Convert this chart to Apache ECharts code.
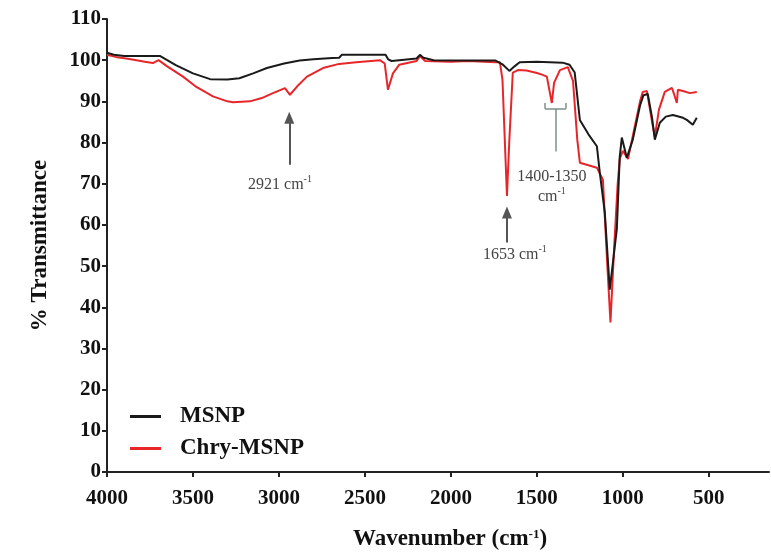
<!DOCTYPE html>
<html>
<head>
<meta charset="utf-8">
<script src="https://cdn.jsdelivr.net/npm/echarts@6/dist/echarts.min.js"></script>
<style>
  html, body { margin: 0; padding: 0; background: #fff; }
  #chart { width: 771px; height: 556px; }
</style>
</head>
<body>
<div id="chart"></div>
<script>
// FTIR 谱图数据 (波数, 透过率%)
var msnpData = [
  [4000, 101.8], [3960, 101.3], [3900, 101.0], [3800, 101.0], [3690, 101.0],
  [3600, 98.8], [3500, 96.8], [3400, 95.4], [3300, 95.3], [3230, 95.6],
  [3150, 96.8], [3070, 98.1], [2970, 99.2], [2880, 99.9], [2800, 100.2],
  [2690, 100.5], [2650, 100.6], [2635, 101.3], [2500, 101.3], [2380, 101.3],
  [2365, 100.2], [2345, 99.8], [2300, 100.0], [2200, 100.4], [2180, 101.3],
  [2160, 100.6], [2100, 100.0], [1900, 99.9], [1740, 99.9], [1700, 99.0],
  [1660, 97.4], [1630, 98.5], [1600, 99.5], [1500, 99.6], [1350, 99.4],
  [1310, 98.9], [1280, 97.0], [1250, 85.5], [1200, 82.0], [1151, 79.1],
  [1134, 72.7], [1105, 63.0], [1076, 44.3], [1035, 59.0], [1018, 76.6],
  [1006, 81.2], [977, 76.3], [942, 80.7], [900, 89.0], [880, 91.5],
  [855, 91.8], [830, 86.0], [814, 80.7], [785, 84.8], [750, 86.3],
  [709, 86.7], [650, 86.0], [628, 85.5], [593, 84.3], [570, 86.0]
];

var chryData = [
  [4000, 101.3], [3950, 100.8], [3870, 100.3], [3780, 99.6], [3733, 99.3],
  [3700, 100.0], [3650, 98.5], [3558, 96.0], [3480, 93.5], [3384, 91.2],
  [3300, 90.0], [3267, 89.8], [3169, 90.0], [3100, 90.8], [3035, 92.0],
  [2965, 93.2], [2936, 91.6], [2895, 93.6], [2837, 96.0], [2744, 98.1],
  [2650, 99.1], [2550, 99.5], [2413, 100.0], [2385, 99.2], [2366, 92.8],
  [2337, 96.8], [2300, 98.9], [2200, 99.8], [2180, 101.0], [2150, 99.8],
  [2000, 99.6], [1900, 99.8], [1740, 99.5], [1715, 99.5], [1700, 95.2],
  [1674, 67.0], [1660, 80.7], [1640, 97.0], [1610, 97.6], [1560, 97.5],
  [1500, 96.9], [1470, 96.5], [1442, 96.0], [1413, 89.6], [1400, 94.5],
  [1366, 97.6], [1320, 98.3], [1290, 95.0], [1279, 88.8], [1265, 80.7],
  [1250, 75.1], [1200, 74.5], [1151, 73.9], [1116, 71.0], [1090, 50.0],
  [1072, 36.3], [1050, 55.0], [1030, 70.0], [1018, 76.0], [1000, 78.0],
  [970, 76.0], [940, 82.0], [900, 90.0], [884, 92.3], [860, 92.5],
  [830, 85.0], [814, 81.4], [790, 88.0], [756, 92.3], [715, 93.3],
  [700, 91.5], [686, 89.6], [680, 92.8], [650, 92.5], [610, 92.0], [570, 92.3]
];

var xTicks = [4000, 3500, 3000, 2500, 2000, 1500, 1000, 500];

var serif = "Liberation Serif";
var axisColor = "#222";

var myChart = echarts.init(document.getElementById("chart"));

var option = {
  backgroundColor: "#fff",
  animation: false,
  grid: {
    left: 107,
    right: 2,
    top: 19,
    bottom: 83,
  },
  legend: {
    orient: "vertical",
    left: 125,
    top: 400,
    icon: "rect",
    itemWidth: 31,
    itemHeight: 3,
    itemGap: 9,
    data: ["MSNP", "Chry-MSNP"],
    textStyle: {
      fontFamily: serif,
      fontWeight: "bold",
      fontSize: 23,
      color: "#111",
      padding: [0, 0, 0, 14],
    },
  },
  xAxis: {
    type: "value",
    inverse: true,
    min: 150,
    max: 4000,
    name: "Wavenumber (cm{sup|-1})",
    nameLocation: "middle",
    nameGap: 56,
    nameTextStyle: {
      fontFamily: serif,
      fontWeight: "bold",
      fontSize: 23,
      color: "#111",
      padding: [0, 0, 0, 24],
      rich: {
        sup: { fontFamily: serif, fontWeight: "bold", fontSize: 13, color: "#111", verticalAlign: "top", padding: [0, 0, 10, 0] },
      },
    },
    splitLine: { show: false },
    axisLine: { show: true, onZero: false, lineStyle: { color: axisColor, width: 2 } },
    axisTick: { show: true, customValues: xTicks, length: 5, lineStyle: { color: axisColor, width: 2 } },
    axisLabel: {
      customValues: xTicks,
      margin: 16,
      formatter: function (v) { return String(v); },
      fontFamily: serif,
      fontWeight: "bold",
      fontSize: 21,
      color: "#111",
    },
  },
  yAxis: {
    type: "value",
    min: 0,
    max: 110,
    interval: 10,
    name: "% Transmittance",
    nameLocation: "middle",
    nameGap: 55,
    nameTextStyle: {
      fontFamily: serif,
      fontWeight: "bold",
      fontSize: 23,
      color: "#111",
    },
    splitLine: { show: false },
    axisLine: { show: true, lineStyle: { color: axisColor, width: 2 } },
    axisTick: { show: true, length: 5, lineStyle: { color: axisColor, width: 2 } },
    axisLabel: {
      margin: 6,
      fontFamily: serif,
      fontWeight: "bold",
      fontSize: 21,
      color: "#111",
    },
  },
  series: [
    {
      name: "Chry-MSNP",
      type: "line",
      data: chryData,
      showSymbol: false,
      z: 2,
      lineStyle: { color: "#e8262a", width: 2 },
      itemStyle: { color: "#e8262a" },
    },
    {
      name: "MSNP",
      type: "line",
      data: msnpData,
      showSymbol: false,
      z: 3,
      lineStyle: { color: "#1a1a1a", width: 2 },
      itemStyle: { color: "#1a1a1a" },
    },
    {
      // 标注 (箭头 / 括号 / 文字)
      name: "annot",
      type: "line",
      data: [],
      z: 4,
      markLine: {
        silent: true,
        animation: false,
        label: { show: false },
        lineStyle: { type: "solid", width: 2, color: "#555" },
        data: [
          [{ coord: [2940, 74.6], symbol: "none" }, { coord: [2940, 86.0], symbol: "triangle", symbolSize: [10, 12], itemStyle: { color: "#111" } }],
          [{ coord: [1674, 55.7], symbol: "none" }, { coord: [1674, 63.0], symbol: "triangle", symbolSize: [10, 12], itemStyle: { color: "#111" } }],
          [{ coord: [1453, 88.2], symbol: "none", lineStyle: { color: "#7c918a", width: 1.5 } }, { coord: [1331, 88.2], symbol: "none" }],
          [{ coord: [1453, 88.2], symbol: "none", lineStyle: { color: "#7c918a", width: 1.5 } }, { coord: [1453, 89.6], symbol: "none" }],
          [{ coord: [1331, 88.2], symbol: "none", lineStyle: { color: "#7c918a", width: 1.5 } }, { coord: [1331, 89.6], symbol: "none" }],
          [{ coord: [1392, 88.2], symbol: "none", lineStyle: { color: "#7c918a", width: 1.5 } }, { coord: [1392, 77.8], symbol: "none" }],
        ],
      },
      markPoint: {
        silent: true,
        symbol: "circle",
        symbolSize: 0,
        label: {
          show: true,
          position: "inside",
          fontFamily: serif,
          fontSize: 16,
          color: "#444",
          lineHeight: 20,
          rich: {
            sup: { fontFamily: serif, fontSize: 10, color: "#444", verticalAlign: "top", padding: [0, 0, 8, 0] },
          },
        },
        data: [
          { coord: [2994, 69.8], label: { formatter: "2921 cm{sup|-1}" } },
          { coord: [1628, 52.8], label: { formatter: "1653 cm{sup|-1}" } },
          { coord: [1413, 69.3], label: { formatter: "1400-1350\ncm{sup|-1}" } },
        ],
      },
    },
  ],
};

option && myChart.setOption(option);
</script>
</body>
</html>
